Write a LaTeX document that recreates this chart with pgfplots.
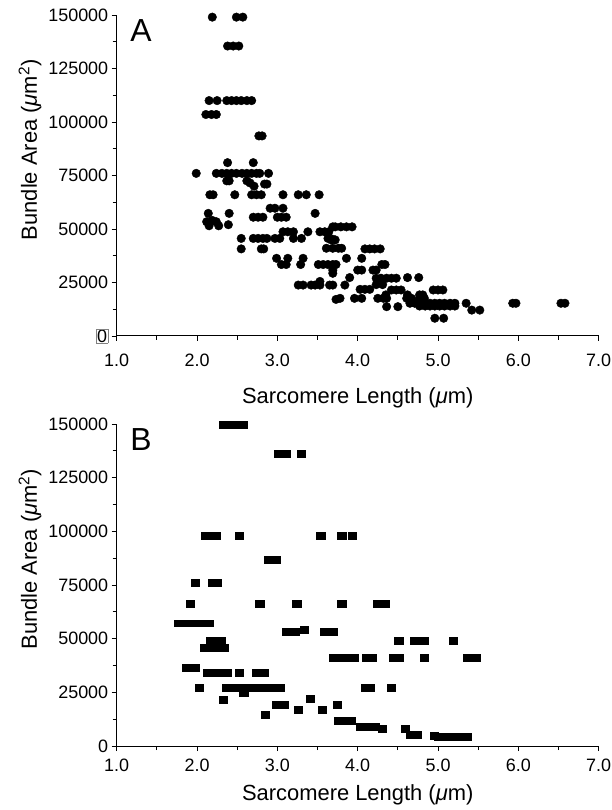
\documentclass[border=0pt]{standalone}
\usepackage{fontspec}
\setmainfont{Liberation Sans}
\usepackage{pgfplots}
\pgfplotsset{compat=1.18}

\pgfplotsset{
 panel/.style={
  scale only axis, width=482bp,
  xmin=1, xmax=7, ymin=0, ymax=150000,
  axis x line=bottom, axis y line=left, axis line style={-, line width=1pt},
  xtick={1,2,...,7}, minor x tick num=1,
  ytick={0,25000,...,150000}, minor y tick num=1,
  tick align=outside, major tick length=5bp, minor tick length=4bp,
  every tick/.style={line width=0.9pt, black},
  scaled y ticks=false, scaled x ticks=false,
  /pgf/number format/assume math mode=true,
  xticklabel style={/pgf/number format/fixed, /pgf/number format/fixed zerofill, /pgf/number format/precision=1},
  yticklabel style={/pgf/number format/fixed, /pgf/number format/set thousands separator={}},
  tick label style={font=\fontsize{18}{21}\selectfont},
  label style={font=\fontsize{22}{26}\selectfont},
  xlabel={Sarcomere Length (\textit{μ}m)},
  ylabel={Bundle Area (\textit{μ}m\textsuperscript{2})},
  ylabel style={at={(ticklabel cs:0.58)}},
  clip=false,
 }
}

\begin{document}
\begin{tikzpicture}
\useasboundingbox (0,0) rectangle (612bp,810bp);
% ---------------- Panel A ----------------
\begin{axis}[panel, at={(116.7bp,474bp)}, anchor=south west, height=321bp,
  xticklabel style={yshift=-9bp},
  xlabel style={at={(axis description cs:0.5,-0.193)}, anchor=center},
  yticklabels={{\setlength\fboxsep{0.6pt}\fcolorbox{gray}{white}{0}},25000,50000,75000,100000,125000,150000}]
\addplot[only marks, mark=*, mark size=4.3pt, black] coordinates {
(2.19,149000)(2.49,149000)(2.57,149000)
(2.38,135500)(2.45,135500)(2.52,135500)
(2.15,110000)(2.25,110000)(2.37,110000)(2.43,110000)(2.49,110000)(2.55,110000)(2.62,110000)(2.68,110000)
(2.11,103500)(2.18,103500)(2.24,103500)
(2.77,93500)(2.81,93500)
(2.38,81000)(2.70,81000)
(1.99,76000)(2.24,76000)(2.31,76000)(2.37,76000)(2.43,76000)(2.49,76000)(2.56,76000)(2.62,76000)(2.68,76000)(2.74,76000)(2.78,76000)(2.89,76000)
(2.37,72500)(2.40,72500)(2.62,72500)(2.66,71500)(2.71,70000)(2.84,71000)(2.87,71000)
(2.16,66000)(2.20,66000)(2.47,66000)(2.68,66000)(2.74,66000)(2.80,66000)(3.07,66000)(3.26,66000)(3.36,66000)(3.52,66000)
(2.91,59700)(2.97,59700)(3.07,59700)
(2.14,57300)(2.40,57300)(3.47,57300)
(2.70,55500)(2.76,55500)(2.82,55500)(3.00,55500)(3.05,55500)(3.11,55500)
(2.12,53400)(2.19,54000)(2.24,53400)(2.15,51500)(2.27,51500)(2.39,52000)
(3.69,51000)(3.72,51000)(3.79,51000)(3.86,51000)(3.93,51000)
(3.07,48700)(3.13,48700)(3.20,48700)(3.38,48700)(3.53,48700)(3.59,48700)(3.64,48700)
(2.55,45600)(2.70,45600)(2.76,45600)(2.82,45600)(2.87,45600)(2.97,45600)(3.03,45600)(3.20,45600)(3.30,45600)(3.63,45600)(3.69,45200)
(3.67,44900)(3.72,44900)
(2.55,40700)(2.80,40700)(2.83,40700)(3.61,41000)(3.69,41000)(3.76,41000)(3.80,41000)
(4.09,40700)(4.15,40700)(4.21,40700)(4.28,40700)
(2.99,36300)(3.13,36300)(3.32,36300)(3.86,36300)(4.05,36300)
(3.05,33400)(3.11,33400)(3.29,33400)(3.51,33400)(3.57,33400)(3.63,33400)(3.69,33400)(3.73,33400)(4.30,33400)(4.34,33400)
(3.69,30800)(4.00,30800)(4.05,30800)(4.19,30800)(4.23,30800)
(3.69,29300)
(3.90,27300)(4.23,27000)(4.29,27000)(4.36,27000)(4.42,27000)(4.48,27000)(4.62,27300)(4.76,27300)
(3.53,25500)
(3.26,23800)(3.32,23800)(3.42,23800)(3.47,23800)(3.53,23800)(3.65,23800)(3.69,23800)(3.84,23800)(4.23,24000)(4.31,24000)
(4.03,21800)(4.09,21800)(4.15,21800)(4.42,21500)(4.48,21500)(4.54,21500)(4.94,21500)(5.00,21500)(5.06,21500)
(4.35,19200)(4.62,19200)(4.77,19200)(4.81,19200)
(3.78,17600)(3.96,17600)(4.05,17600)(4.25,17600)(4.32,17600)(4.36,17600)(4.61,17600)(4.67,17600)(4.77,17600)(4.83,17600)(3.73,17100)
(4.65,15300)(4.71,15300)(4.77,15300)(4.84,15300)(4.90,15300)(4.96,15300)(5.02,15300)(5.08,15300)(5.15,15300)(5.21,15300)(5.35,15300)(5.93,15300)(5.97,15300)(6.53,15300)(6.58,15300)
(4.36,13700)(4.50,13700)(4.77,14000)(4.84,14000)(4.90,14000)(4.96,14000)(5.02,14000)(5.08,14000)(5.15,14000)(5.21,14000)(5.42,12100)(5.52,12100)
(4.96,8300)(5.07,8300)
};
\node[anchor=north west, inner sep=0pt, font=\fontsize{32}{36}\selectfont] at (rel axis cs:0.028,0.985) {A};
\end{axis}
% ---------------- Panel B ----------------
\begin{axis}[panel, at={(116.7bp,64bp)}, anchor=south west, height=322bp,
  xticklabel style={yshift=-4bp},
  xlabel style={at={(axis description cs:0.5,-0.152)}, anchor=center}]
\addplot[only marks, mark=square*, mark size=4.1pt, mark options={yscale=0.85}, black] coordinates {
(2.33,149500)(2.40,149500)(2.50,149500)(2.57,149500)
(3.01,136000)(3.11,136000)(3.30,136000)
(2.10,97800)(2.16,97800)(2.24,97800)(2.53,97800)(3.54,97800)(3.80,97800)(3.93,97800)
(2.89,87000)(2.99,87000)
(1.98,76200)(2.19,76200)(2.25,76200)
(1.91,66400)(2.78,66400)(3.24,66400)(3.80,66400)(4.25,66400)(4.34,66400)
(1.77,57200)(1.83,57200)(1.91,57200)(1.98,57200)(2.07,57200)(2.15,57200)
(3.11,53200)(3.22,53200)(3.33,54000)(3.59,53200)(3.69,53200)
(2.16,48900)(2.24,48900)(2.30,48900)(4.51,49000)(4.71,49000)(4.83,49000)(5.19,49000)
(2.09,46000)(2.15,46000)(2.21,46000)(2.28,46000)(2.34,46000)
(3.70,41100)(3.78,41100)(3.86,41100)(3.95,41100)(4.11,41100)(4.18,41100)(4.44,41100)(4.52,41100)(4.83,41100)(5.37,41100)(5.48,41100)
(1.87,36500)(1.97,36500)
(2.13,34100)(2.21,34100)(2.29,34100)(2.37,34100)(2.52,34100)(2.74,34100)(2.83,34100)
(2.03,27300)(2.37,27300)(2.45,27300)(2.54,27300)(2.62,27300)(2.69,27300)(2.80,27300)(2.91,27300)(3.03,27300)(4.09,27300)(4.15,27300)(4.42,27300)
(2.58,24800)
(2.33,21700)(3.41,22000)
(2.99,19300)(3.09,19300)(3.74,19300)
(3.26,16700)(3.56,16700)
(2.85,14400)
(3.76,11800)(3.84,11800)(3.92,11800)
(4.03,9100)(4.14,9100)(4.22,9100)(4.30,8000)(4.59,8000)
(4.65,5300)(4.74,5300)(4.95,5000)(5.00,4400)(5.09,4400)(5.17,4400)(5.28,4400)(5.36,4400)
};
\node[anchor=north west, inner sep=0pt, font=\fontsize{32}{36}\selectfont] at (rel axis cs:0.028,0.985) {B};
\end{axis}
\end{tikzpicture}
\end{document}
